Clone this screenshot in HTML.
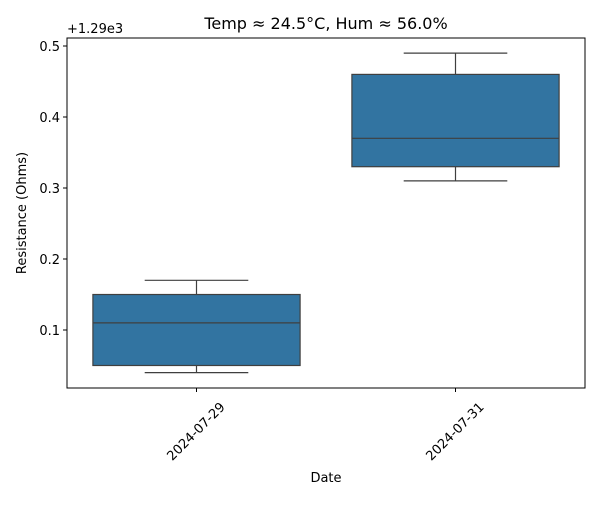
<!DOCTYPE html>
<html><head><meta charset="utf-8"><style>body{margin:0;background:#fff}svg{font-family:"DejaVu Sans","Liberation Sans",sans-serif}</style></head>
<body>
<svg id="c" width="600" height="500" xmlns="http://www.w3.org/2000/svg"></svg>
<script>
const categories = ["2024-07-29","2024-07-31"];
const whiskerLow = [0.04, 0.31];
const q1 = [0.05, 0.33];
const medians = [0.11, 0.37];
const q3 = [0.15, 0.46];
const whiskerHigh = [0.17, 0.49];
const yTicks = [0.1,0.2,0.3,0.4,0.5];
const yTickLabels = ["0.1","0.2","0.3","0.4","0.5"];

const NS="http://www.w3.org/2000/svg";
const svg=document.getElementById('c');
const L=67,R=585,T=38,B=388;
const y=v=>330-(v-0.1)*710;
const band=(R-L)/categories.length;
const x=i=>L+band*(i+0.5);
function el(t,a,txt){const e=document.createElementNS(NS,t);for(const k in a)e.setAttribute(k,a[k]);if(txt!==undefined)e.textContent=txt;svg.appendChild(e);return e;}

let e=el('text',{x:326,y:29,'text-anchor':'middle','font-size':16,fill:'#000'},'Temp ≈ 24.5°C, Hum ≈ 56.0%');


e=el('text',{x:67,y:33,'font-size':13,fill:'#000'},'+1.29e3');



categories.forEach((c,i)=>{
  const cx=x(i),hw=band*0.4,cw=band*0.2;
  let g;
  g=el('line',{x1:cx,x2:cx,y1:y(whiskerLow[i]),y2:y(q1[i]),stroke:'#3f3f3f','stroke-width':1.2});
  
  
  g=el('line',{x1:cx,x2:cx,y1:y(whiskerHigh[i]),y2:y(q3[i]),stroke:'#3f3f3f','stroke-width':1.2});
  
  
  g=el('line',{x1:cx-cw,x2:cx+cw,y1:y(whiskerLow[i]),y2:y(whiskerLow[i]),stroke:'#3f3f3f','stroke-width':1.2});
  
  
  g=el('line',{x1:cx-cw,x2:cx+cw,y1:y(whiskerHigh[i]),y2:y(whiskerHigh[i]),stroke:'#3f3f3f','stroke-width':1.2});
  
  
  g=el('rect',{x:cx-hw,y:y(q3[i]),width:2*hw,height:y(q1[i])-y(q3[i]),fill:'#3274a1',stroke:'#3f3f3f','stroke-width':1.2});
  
  
  g=el('line',{x1:cx-hw,x2:cx+hw,y1:y(medians[i]),y2:y(medians[i]),stroke:'#3f3f3f','stroke-width':1.2});
  
  
  g=el('line',{x1:cx,x2:cx,y1:B,y2:B+4,stroke:'#000'});
  
  
  g=el('text',{transform:`translate(${cx},${B+44}) rotate(-45)`,'text-anchor':'middle','dominant-baseline':'central','font-size':13,fill:'#000'},c);
  
  
});
yTicks.forEach((v,i)=>{
  let g=el('line',{x1:L-4,x2:L,y1:y(v),y2:y(v),stroke:'#000'});
  
  
  g=el('text',{x:L-7,y:y(v)+5,'text-anchor':'end','font-size':13,fill:'#000'},yTickLabels[i]);
  
  
});
e=el('rect',{x:L,y:T,width:R-L,height:B-T,fill:'none',stroke:'#000','stroke-width':1});


e=el('text',{x:(L+R)/2,y:482,'text-anchor':'middle','font-size':13,fill:'#000'},'Date');


e=el('text',{transform:`translate(26,${(T+B)/2}) rotate(-90)`,'text-anchor':'middle','font-size':13,fill:'#000'},'Resistance (Ohms)');


</script>
</body></html>
